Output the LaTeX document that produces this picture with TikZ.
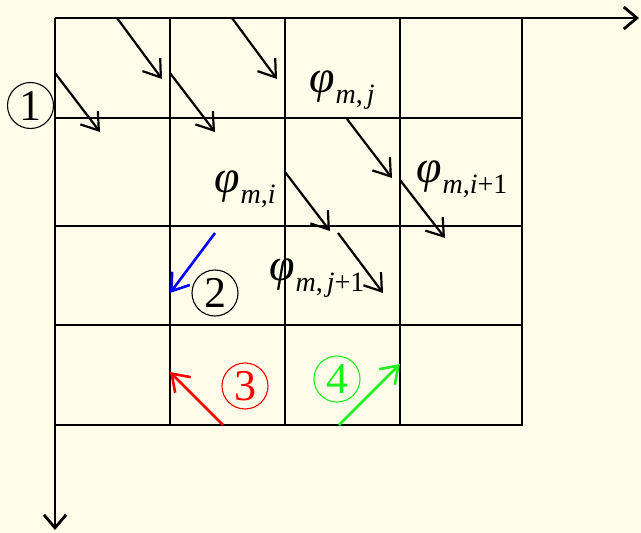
\documentclass[tikz,border=0pt]{standalone}
\usepackage{fontspec}
\setmainfont{Liberation Serif}
\usetikzlibrary{arrows.meta}
\definecolor{bg}{RGB}{255,253,233}
\definecolor{mygreen}{RGB}{30,240,30}
\tikzset{
  gridline/.style={line width=2.8pt, line cap=rect},
  arr/.style={line width=2.2pt, -{Straight Barb[length=16pt,width=22pt]}},
  carr/.style={line width=2.6pt, -{Straight Barb[length=16pt,width=22pt]}},
  axisline/.style={line width=2.8pt, -{Straight Barb[length=13pt,width=22pt]}},
  circnum/.style={circle, draw, line width=1.1pt, minimum size=46pt, inner sep=0pt, font=\fontsize{44}{44}\selectfont},
  lab/.style={inner sep=0pt, anchor=base west, font=\fontsize{46}{46}\selectfont}
}
\newcommand{\phlab}[1]{\textit{φ}\kern1pt\raisebox{-11pt}{\fontsize{28}{28}\selectfont #1}}
\begin{document}
\begin{tikzpicture}[x=1pt,y=-1pt]
\fill[bg] (0,0) rectangle (641,533);
\useasboundingbox (0,0) rectangle (641,533);
% grid
\foreach \x in {170,285,400,522} \draw[gridline] (\x,18) -- (\x,425);
\foreach \y in {118,226,325,425} \draw[gridline] (55,\y) -- (522,\y);
% axes
\coordinate (O) at (55,18);
\coordinate (XE) at (639,18);
\coordinate (YE) at (55,530);
\draw[axisline] (O) -- (XE);
\draw[axisline] (O) -- (YE);
% black arrows
\draw[arr] (117,18) -- (162,79);
\draw[arr] (232,18) -- (277,79);
\draw[arr] (55,73) -- (100,132);
\draw[arr] (170,73) -- (215,132);
\draw[arr] (347,119) -- (392,178);
\draw[arr] (285,172) -- (330,231);
\draw[arr] (400,180) -- (445,238);
\draw[arr] (338,233) -- (383,293);
% coloured arrows
\draw[carr, blue] (215,233) -- (170,293);
\draw[carr, red] (223,425) -- (170,372);
\draw[carr, mygreen] (339,425) -- (400,364);
% labels
\node[lab] (pmj) at (309,92) {\phlab{\textit{m},\kern4pt\textit{j}}};
\node[lab] (pmi) at (214,192) {\phlab{\textit{m},\textit{i}}};
\node[lab] (pmi1) at (416,182) {\phlab{\textit{m},\textit{i}+1}};
\node[lab] (pmj1) at (269,280) {\phlab{\textit{m},\kern4pt\textit{j}+1}};
% circled numbers
\node[circnum] (c1) at (30.5,105.5) {1};
\node[circnum] (c2) at (215,293) {2};
\node[circnum, red] (c3) at (245,386) {3};
\node[circnum, mygreen] (c4) at (337,379) {4};
\end{tikzpicture}
\end{document}
